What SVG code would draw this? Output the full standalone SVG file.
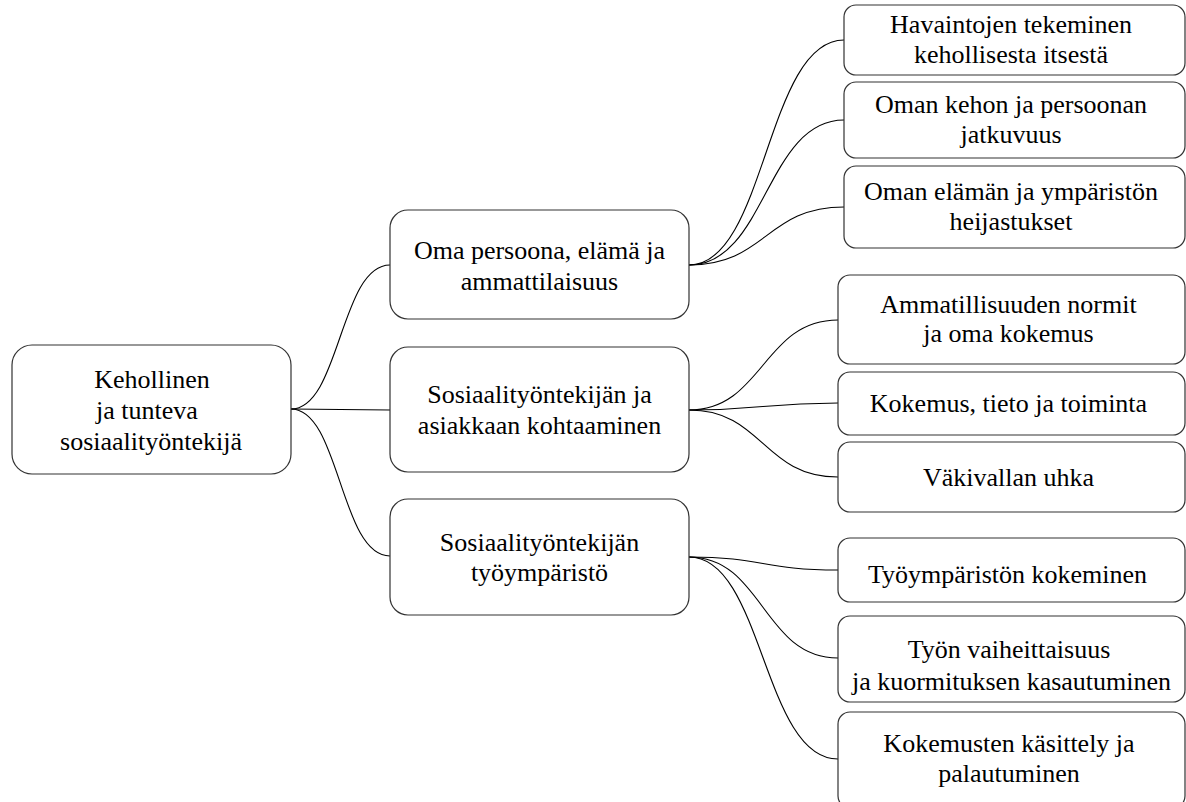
<svg xmlns="http://www.w3.org/2000/svg" width="1186" height="802" viewBox="0 0 1186 802">
<style>
.box{fill:#fff;stroke:#333;stroke-width:1.2}
.c{fill:none;stroke:#000;stroke-width:1.1}
text{font-family:"Liberation Serif","Times New Roman",serif;font-size:26px;fill:#000;text-anchor:middle}
</style>
<rect width="1186" height="802" fill="#fff"/>
<g id="connectors">
<path class="c" d="M291,409 C340,409 340,265 390,265"/>
<path class="c" d="M291,409 L390,410"/>
<path class="c" d="M291,409 C340,409 340,556 390,556"/>
<path class="c" d="M689,265 C766,265 766,40 844,40"/>
<path class="c" d="M689,265 C766,265 766,120 844,120"/>
<path class="c" d="M689,265 C766,265 766,207 844,207"/>
<path class="c" d="M689,410 C763,410 763,320 838,320"/>
<path class="c" d="M689,410 C763,410 763,403 838,403"/>
<path class="c" d="M689,410 C763,410 763,477 838,477"/>
<path class="c" d="M689,557 C763,557 763,570 838,570"/>
<path class="c" d="M689,557 C763,557 763,658 838,658"/>
<path class="c" d="M689,557 C763,557 763,759 838,759"/>
</g>
<g id="root">
<rect class="box" x="12" y="345" width="279" height="129" rx="20"/>
<text x="152" y="388">Kehollinen</text>
<text x="147" y="419">ja tunteva</text>
<text x="151" y="450">sosiaalityöntekijä</text>
</g>
<g id="mid1">
<rect class="box" x="390" y="210" width="299" height="109" rx="18"/>
<text x="539.5" y="259">Oma persoona, elämä ja</text>
<text x="539.5" y="290">ammattilaisuus</text>
</g>
<g id="mid2">
<rect class="box" x="390" y="347" width="299" height="125" rx="18"/>
<text x="539.5" y="403">Sosiaalityöntekijän ja</text>
<text x="539.5" y="434">asiakkaan kohtaaminen</text>
</g>
<g id="mid3">
<rect class="box" x="390" y="499" width="299" height="116" rx="18"/>
<text x="539.5" y="551">Sosiaalityöntekijän</text>
<text x="539.5" y="581">työympäristö</text>
</g>
<g id="leaf1">
<rect class="box" x="844" y="5" width="341" height="70" rx="12"/>
<text x="1011" y="33">Havaintojen tekeminen</text>
<text x="1011" y="63">kehollisesta itsestä</text>
</g>
<g id="leaf2">
<rect class="box" x="844" y="82" width="341" height="76" rx="12"/>
<text x="1011" y="113">Oman kehon ja persoonan</text>
<text x="1011" y="143">jatkuvuus</text>
</g>
<g id="leaf3">
<rect class="box" x="844" y="166" width="341" height="82" rx="12"/>
<text x="1011" y="200">Oman elämän ja ympäristön</text>
<text x="1011" y="230">heijastukset</text>
</g>
<g id="leaf4">
<rect class="box" x="838" y="275" width="347" height="89" rx="12"/>
<text x="1008.5" y="313">Ammatillisuuden normit</text>
<text x="1008.5" y="342">ja oma kokemus</text>
</g>
<g id="leaf5">
<rect class="box" x="838" y="372" width="347" height="63" rx="12"/>
<text x="1008.5" y="412">Kokemus, tieto ja toiminta</text>
</g>
<g id="leaf6">
<rect class="box" x="838" y="442" width="347" height="70" rx="12"/>
<text x="1008.5" y="486">Väkivallan uhka</text>
</g>
<g id="leaf7">
<rect class="box" x="838" y="538" width="347" height="64" rx="12"/>
<text x="1007.5" y="583">Työympäristön kokeminen</text>
</g>
<g id="leaf8">
<rect class="box" x="838" y="616" width="347" height="86" rx="12"/>
<text x="1009" y="658">Työn vaiheittaisuus</text>
<text x="1011.5" y="690">ja kuormituksen kasautuminen</text>
</g>
<g id="leaf9">
<rect class="box" x="838" y="712" width="347" height="96" rx="12"/>
<text x="1009" y="752">Kokemusten käsittely ja</text>
<text x="1009" y="782">palautuminen</text>
</g>
</svg>
